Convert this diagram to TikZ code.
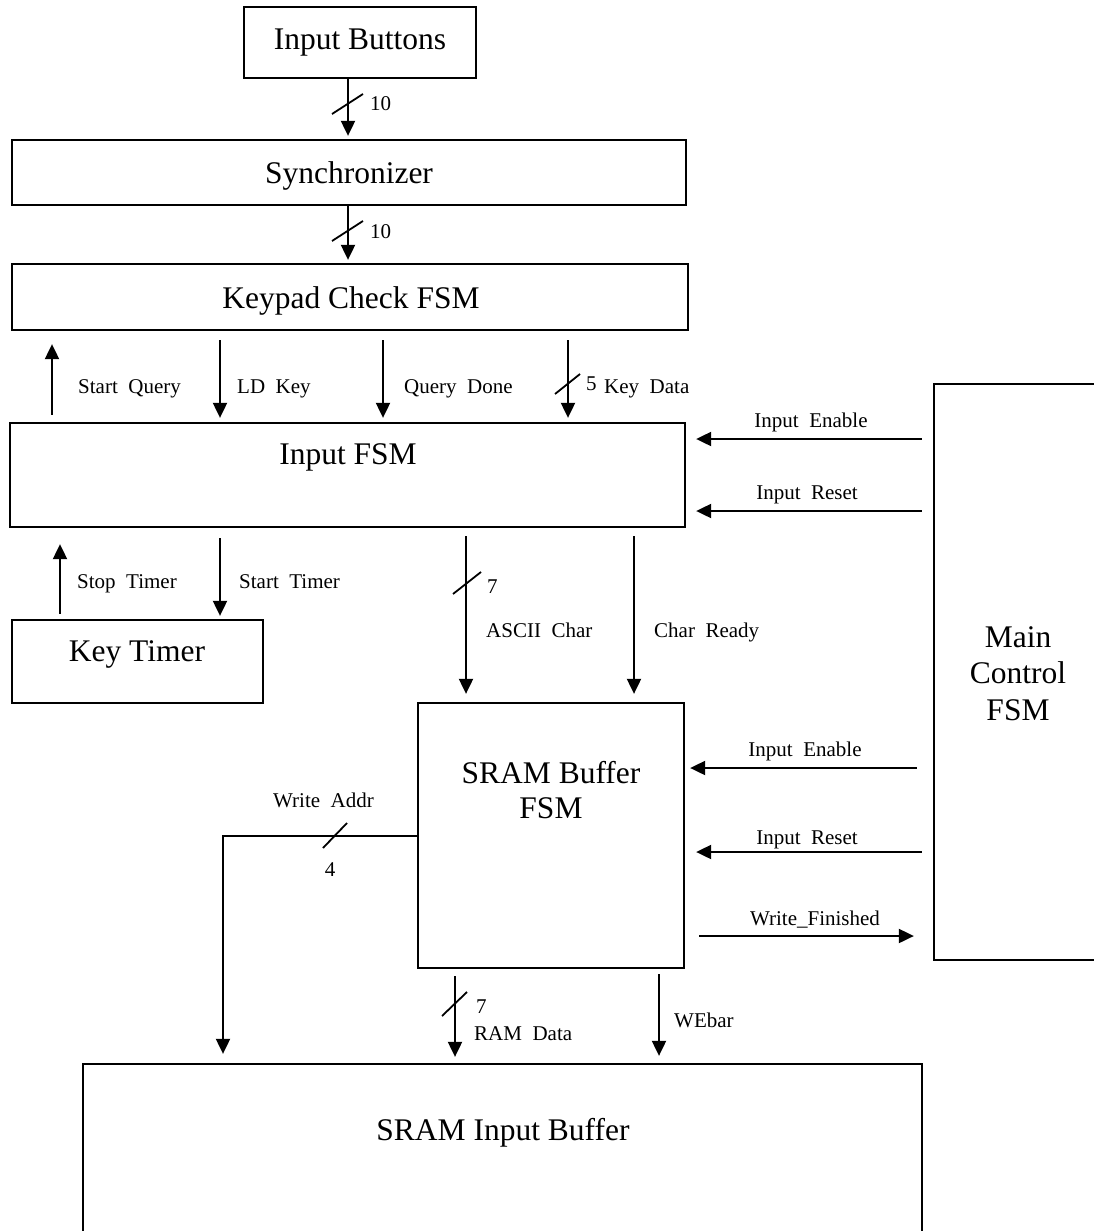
\documentclass[tikz,border=0pt]{standalone}
\usepackage{fontspec}
\setmainfont{Liberation Serif}
\usetikzlibrary{arrows.meta}
\begin{document}
\begin{tikzpicture}[x=1pt,y=-1pt,
  box/.style={draw,line width=2.3pt,inner sep=0pt},
  big/.style={font=\fontsize{31.5}{36}\selectfont,inner sep=0pt,anchor=base},
  lbl/.style={font=\fontsize{21}{24}\selectfont,inner sep=0pt,anchor=base west},
  lblc/.style={font=\fontsize{21}{24}\selectfont,inner sep=0pt,anchor=base},
  sig/.style={line width=2pt,-{Triangle[length=15pt,width=14pt]}},
  slash/.style={line width=1.8pt}]
\useasboundingbox (0,0) rectangle (1094,1231);

% boxes
\node[box,minimum width=232pt,minimum height=71pt] (ib) at (360,42.5) {};
\node[box,minimum width=674pt,minimum height=65pt] (sync) at (349,172.5) {};
\node[box,minimum width=676pt,minimum height=66pt] (kp) at (350,297) {};
\node[box,minimum width=675pt,minimum height=104pt] (ifsm) at (347.5,475) {};
\node[box,minimum width=251pt,minimum height=83pt] (kt) at (137.5,661.5) {};
\node[box,minimum width=266pt,minimum height=265pt] (sbf) at (551,835.5) {};
\node[box,minimum width=176pt,minimum height=576pt] (mcf) at (1022,672) {};
\node[box,minimum width=839pt,minimum height=186pt] (sib) at (502.5,1157) {};

% box texts
\node[big] (ibt) at (360,49) {Input Buttons};
\node[big] (synct) at (349,183) {Synchronizer};
\node[big] (kpt) at (351,308) {Keypad Check FSM};
\node[big] (ifsmt) at (348,464) {Input FSM};
\node[big] (ktt) at (137,661) {Key Timer};
\node[big] (sbft1) at (551,783) {SRAM Buffer};
\node[big] (sbft2) at (551,818) {FSM};
\node[big] (mcft1) at (1018,647) {Main};
\node[big] (mcft2) at (1018,683) {Control};
\node[big] (mcft3) at (1018,720) {FSM};
\node[big] (sibt) at (503,1140) {SRAM Input Buffer};

% Input Buttons -> Synchronizer
\draw[sig,shorten >=3pt] (348,0 |- ib.south) -- (348,0 |- sync.north);
\draw[slash] (332,114) -- (363,94);
\node[lbl] (n10a) at (370,110) {10};
% Synchronizer -> Keypad
\draw[sig,shorten >=3pt] (348,0 |- sync.south) -- (348,0 |- kp.north);
\draw[slash] (332,241) -- (363,221);
\node[lbl] (n10b) at (370,238) {10};

% Keypad <-> Input FSM
\draw[sig,shorten <=7pt,shorten >=13pt] (52,0 |- ifsm.north) -- (52,0 |- kp.south);
\node[lbl] (sq) at (78,393) {Start~~Query};
\draw[sig,shorten <=9pt,shorten >=4pt] (220,0 |- kp.south) -- (220,0 |- ifsm.north);
\node[lbl] (ldk) at (237,393) {LD~~Key};
\draw[sig,shorten <=9pt,shorten >=4pt] (383,0 |- kp.south) -- (383,0 |- ifsm.north);
\node[lbl] (qd) at (404,393) {Query~~Done};
\draw[sig,shorten <=9pt,shorten >=4pt] (568,0 |- kp.south) -- (568,0 |- ifsm.north);
\draw[slash] (555,394) -- (580,374);
\node[lbl] (n5) at (586,390) {5};
\node[lbl] (kd) at (604,393) {Key~~Data};

% Input FSM <-> Key Timer
\draw[sig,shorten <=5pt,shorten >=16pt] (60,0 |- kt.north) -- (60,0 |- ifsm.south);
\node[lbl] (stt) at (77,588) {Stop~~Timer};
\draw[sig,shorten <=10pt,shorten >=3pt] (220,0 |- ifsm.south) -- (220,0 |- kt.north);
\node[lbl] (srt) at (239,588) {Start~~Timer};

% Input FSM -> SRAM Buffer FSM
\draw[sig,shorten <=8pt,shorten >=8pt] (466,0 |- ifsm.south) -- (466,0 |- sbf.north);
\draw[slash] (453,594) -- (481,572);
\node[lbl] (n7a) at (487,593) {7};
\node[lbl] (ac) at (486,637) {ASCII~~Char};
\draw[sig,shorten <=8pt,shorten >=8pt] (634,0 |- ifsm.south) -- (634,0 |- sbf.north);
\node[lbl] (cr) at (654,637) {Char~~Ready};

% Main Control FSM -> Input FSM
\draw[sig,shorten <=11pt,shorten >=10pt] (mcf.west |- 0,439) -- (ifsm.east |- 0,439);
\node[lblc] (ie1) at (811,427) {Input~~Enable};
\draw[sig,shorten <=11pt,shorten >=10pt] (mcf.west |- 0,511) -- (ifsm.east |- 0,511);
\node[lblc] (ir1) at (807,499) {Input~~Reset};

% Main Control FSM <-> SRAM Buffer FSM
\draw[sig,shorten <=16pt,shorten >=5pt] (mcf.west |- 0,768) -- (sbf.east |- 0,768);
\node[lblc] (ie2) at (805,756) {Input~~Enable};
\draw[sig,shorten <=11pt,shorten >=11pt] (mcf.west |- 0,852) -- (sbf.east |- 0,852);
\node[lblc] (ir2) at (807,844) {Input~~Reset};
\draw[sig,shorten <=14pt,shorten >=19pt] (sbf.east |- 0,936) -- (mcf.west |- 0,936);
\node[lblc] (wf) at (815,925) {Write\_Finished};

% SRAM Buffer FSM -> SRAM Input Buffer
\draw[sig,shorten >=9pt] (sbf.west |- 0,836) -| (223,0 |- sib.north);
\draw[slash] (323,848) -- (347,823);
\node[lbl] (wa) at (273,807) {Write~~Addr};
\node[lblc] (n4) at (330,876) {4};
\draw[sig,shorten <=7pt,shorten >=6pt] (455,0 |- sbf.south) -- (455,0 |- sib.north);
\draw[slash] (442,1016) -- (467,992);
\node[lbl] (n7b) at (476,1013) {7};
\node[lbl] (rd) at (474,1040) {RAM~~Data};
\draw[sig,shorten <=5pt,shorten >=7pt] (659,0 |- sbf.south) -- (659,0 |- sib.north);
\node[lbl] (we) at (674,1027) {WEbar};
\end{tikzpicture}
\end{document}
